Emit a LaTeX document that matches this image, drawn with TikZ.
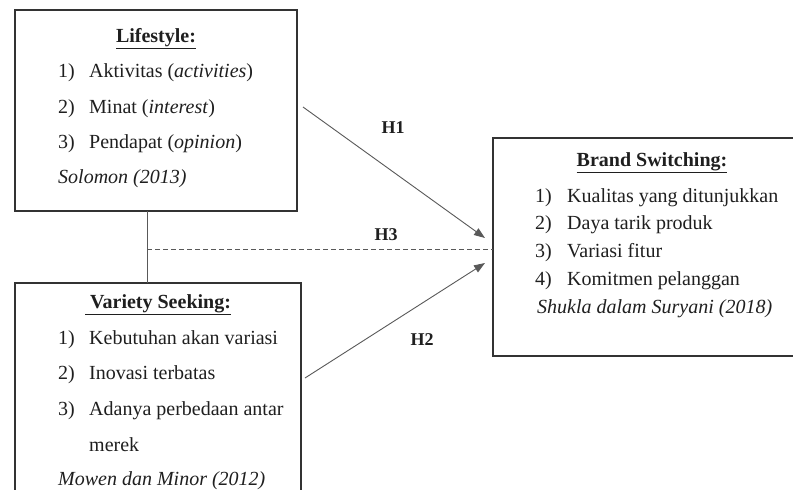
\documentclass[tikz,border=0pt]{standalone}
\usepackage{fontspec}
\setmainfont{Liberation Serif}
\usetikzlibrary{arrows.meta}
\begin{document}
\begin{tikzpicture}[x=1pt,y=-1pt,
  box/.style={draw=black!80, line width=1.4pt, inner sep=0pt, outer sep=0pt, anchor=north west},
  txt/.style={anchor=base west, inner sep=0pt, text=black!88, font=\fontsize{20}{24}\selectfont},
  ttl/.style={anchor=base, inner sep=0pt, text=black!88, font=\fontsize{20}{24}\selectfont\bfseries},
  hlab/.style={inner sep=0pt, text=black!88, font=\fontsize{18}{22}\selectfont\bfseries},
  conn/.style={draw=black!65, line width=0.9pt},
  arr/.style={conn, -{Triangle[length=11pt,width=8pt]}}
]
\useasboundingbox (0,0) rectangle (793,490);
\clip (0,0) rectangle (793,490);
\fill[white] (0,0) rectangle (793,490);

% boxes
\node[box, minimum width=282pt, minimum height=201pt] (ls) at (15,10) {};
\node[box, minimum width=286pt, minimum height=230pt] (vs) at (15,283) {};
\node[box, minimum width=320pt, minimum height=218pt] (bs) at (493,138) {};

% Lifestyle text
\node[ttl] (lst) at (156,42) {\underline{Lifestyle:}};
\node[txt] (ls1n) at (58,77) {1)};
\node[txt] (ls1) at (89,77) {Aktivitas (\textit{activities})};
\node[txt] (ls2n) at (58,113) {2)};
\node[txt] (ls2) at (89,113) {Minat (\textit{interest})};
\node[txt] (ls3n) at (58,148) {3)};
\node[txt] (ls3) at (89,148) {Pendapat (\textit{opinion})};
\node[txt] (lsr) at (58,183) {\textit{Solomon (2013)}};

% Variety Seeking text
\node[ttl] (vst) at (158,308) {\underline{\ Variety Seeking:}};
\node[txt] (vs1n) at (58,344) {1)};
\node[txt] (vs1) at (89,344) {Kebutuhan akan variasi};
\node[txt] (vs2n) at (58,379) {2)};
\node[txt] (vs2) at (89,379) {Inovasi terbatas};
\node[txt] (vs3n) at (58,415) {3)};
\node[txt] (vs3) at (89,415) {Adanya perbedaan antar};
\node[txt] (vs3b) at (89,451) {merek};
\node[txt] (vsr) at (58,485) {\textit{Mowen dan Minor (2012)}};

% Brand Switching text
\node[ttl] (bst) at (652,166) {\underline{Brand Switching:}};
\node[txt] (bs1n) at (535,202) {1)};
\node[txt] (bs1) at (567,202) {Kualitas yang ditunjukkan};
\node[txt] (bs2n) at (535,229) {2)};
\node[txt] (bs2) at (567,229) {Daya tarik produk};
\node[txt] (bs3n) at (535,257) {3)};
\node[txt] (bs3) at (567,257) {Variasi fitur};
\node[txt] (bs4n) at (535,285) {4)};
\node[txt] (bs4) at (567,285) {Komitmen pelanggan};
\node[txt] (bsr) at (537,313) {\textit{Shukla dalam Suryani (2018)}};

% connectors
\coordinate (vx) at (147,249);
\draw[conn] (ls.south -| vx) -- (vs.north -| vx);
\draw[conn, dashed, dash pattern=on 5pt off 3pt] (vx) -- (vx -| bs.west);

\coordinate (h1s) at (303,107);
\coordinate (h1e) at (485,238);
\coordinate (h2s) at (305,378);
\coordinate (h2e) at (485,263);
\draw[arr] (h1s) -- (h1e);
\draw[arr] (h2s) -- (h2e);

\node[hlab] (h1) at (393,128) {H1};
\node[hlab] (h3) at (386,235) {H3};
\node[hlab] (h2) at (422,340) {H2};
\end{tikzpicture}
\end{document}
